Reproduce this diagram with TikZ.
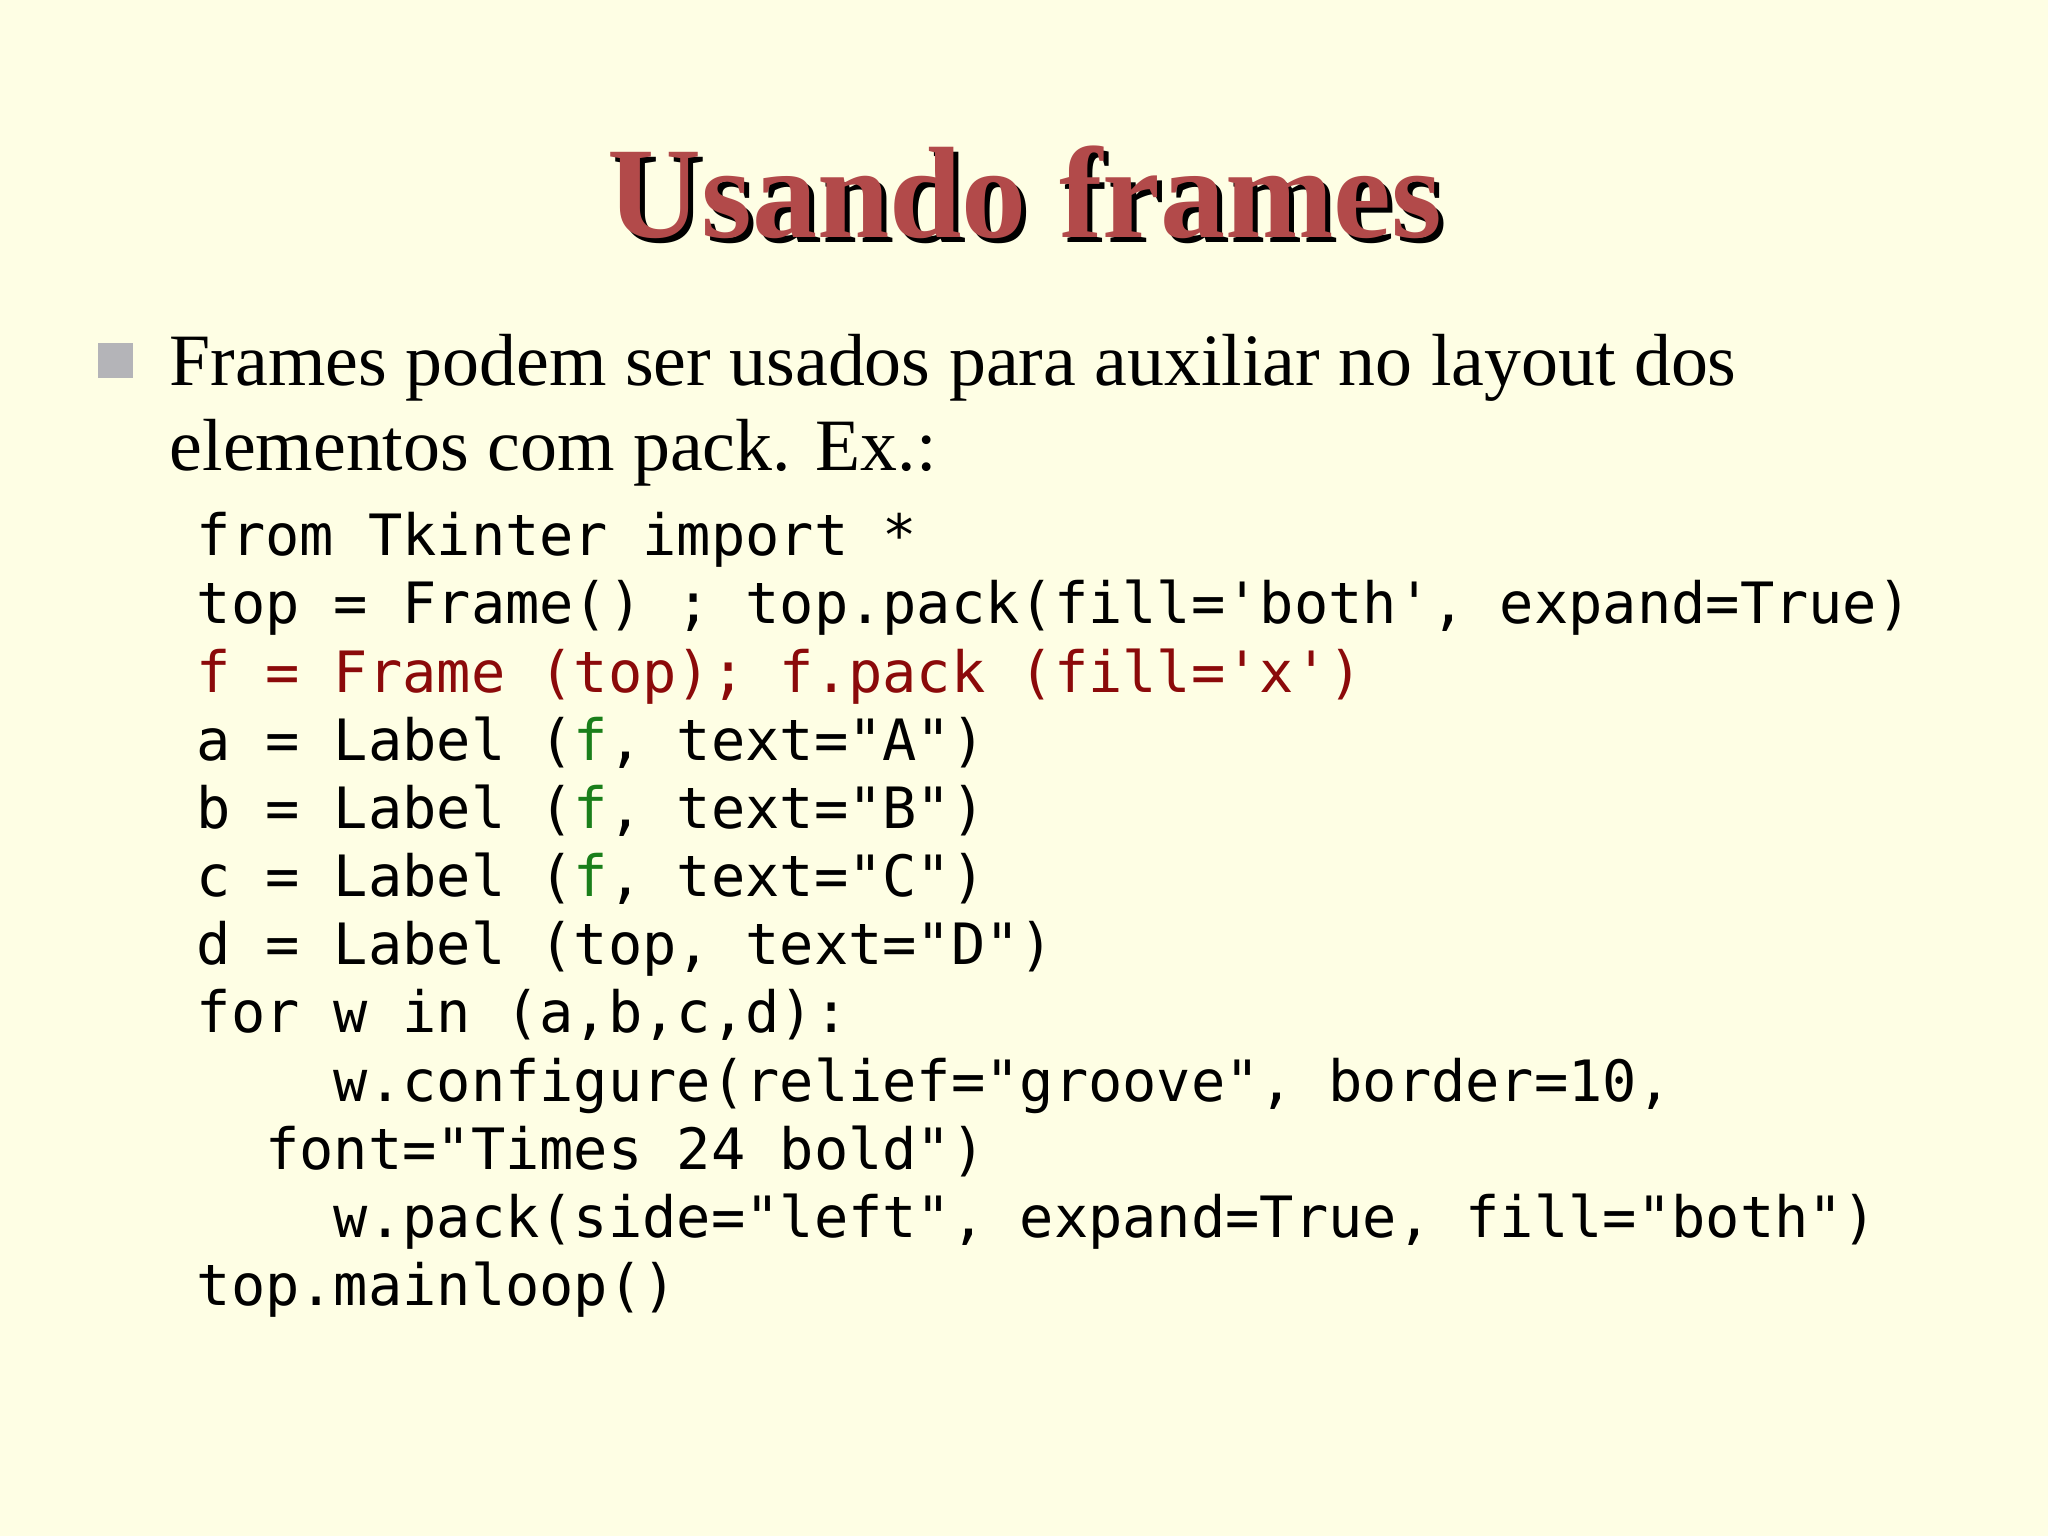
\documentclass[tikz,border=0pt]{standalone}
\usepackage{fontspec}
\setmainfont{Liberation Serif}
\setmonofont{DejaVu Sans Mono}
\definecolor{bg}{HTML}{FEFEE4}
\definecolor{ttl}{HTML}{B24A4A}
\definecolor{dred}{HTML}{8B0A0A}
\definecolor{grn}{HTML}{1A7F1A}
\definecolor{bul}{HTML}{B4B4B8}
\tikzset{code/.style={anchor=base west,inner sep=0pt,font=\fontsize{16.2}{16.2}\selectfont\ttfamily},
 body/.style={anchor=base west,inner sep=0pt,font=\fontsize{21}{21}\selectfont}}
\begin{document}
\begin{tikzpicture}[x=0.01cm,y=-0.01cm]
\fill[bg] (0,0) rectangle (2048,1536);
\node[inner sep=0pt,font=\fontsize{37}{37}\selectfont\bfseries,text=black] (tsh) at (1030,197) {Usando frames};
\node[inner sep=0pt,font=\fontsize{37}{37}\selectfont\bfseries,text=ttl] (t) at (1025,192) {Usando frames};
\fill[bul] (98,343) rectangle (133,378);
\node[body] (b1) at (169,385) {Frames podem ser usados para auxiliar no layout dos};
\node[body] (b2) at (169,470) {elementos com pack. Ex.:};
\node[code] (c1) at (196,555) {from Tkinter import *};
\node[code] (c2) at (196,623) {top = Frame() ; top.pack(fill='both', expand=True)};
\node[code,text=dred] (c3) at (196,692) {f = Frame (top); f.pack (fill='x')};
\node[code] (c4) at (196,760) {a = Label (\textcolor{grn}{f}, text="A")};
\node[code] (c5) at (196,828) {b = Label (\textcolor{grn}{f}, text="B")};
\node[code] (c6) at (196,896) {c = Label (\textcolor{grn}{f}, text="C")};
\node[code] (c7) at (196,964) {d = Label (top, text="D")};
\node[code] (c8) at (196,1032) {for w in (a,b,c,d):};
\node[code] (c9) at (196,1101) {\ \ \ \ w.configure(relief="groove", border=10,};
\node[code] (c10) at (196,1169) {\ \ font="Times 24 bold")};
\node[code] (c11) at (196,1237) {\ \ \ \ w.pack(side="left", expand=True, fill="both")};
\node[code] (c12) at (196,1305) {top.mainloop()};
\end{tikzpicture}
\end{document}
